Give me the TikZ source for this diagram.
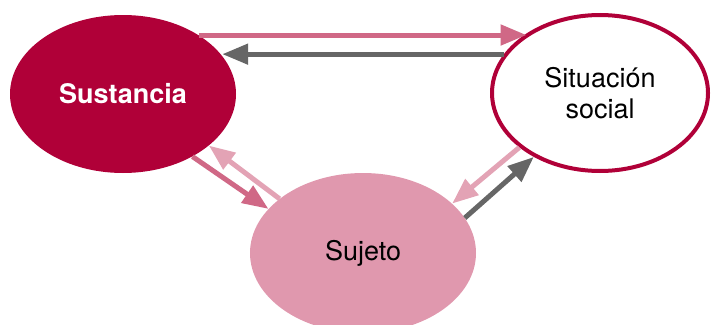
\documentclass[tikz,border=0pt]{standalone}
\usepackage{fontspec}
\setmainfont{TeX Gyre Heros}
\usetikzlibrary{arrows.meta,shapes.geometric}
\definecolor{crimson}{HTML}{B00038}
\definecolor{rosefill}{HTML}{E098AE}
\definecolor{rosearrow}{HTML}{D06886}
\definecolor{lightrose}{HTML}{E3A3B5}
\definecolor{greyarrow}{HTML}{666666}
\tikzset{
  bubble/.style={ellipse, inner sep=0pt, font=\fontsize{27}{31}\selectfont, align=center},
  conn/.style={line width=5pt, -{Triangle[length=26pt,width=20pt]}},
}
\begin{document}
\begin{tikzpicture}[x=1pt,y=-1pt]
\useasboundingbox (0,0) rectangle (711,324);
\clip (0,0) rectangle (711,324);
\node[bubble, fill=crimson, text=white, font=\fontsize{27}{31}\selectfont\bfseries,
      minimum width=226pt, minimum height=158pt] (sus) at (123,94) {Sustancia};
\node[bubble, draw=crimson, line width=4pt, fill=white,
      minimum width=216pt, minimum height=156pt] (sit) at (600,93) {Situación\\social};
\node[bubble, fill=rosefill, minimum width=226pt, minimum height=160pt] (suj) at (363,253) {Sujeto};
\draw[conn, rosearrow] (sus.38.6) -- (sus.38.6 -| sit.141.5);
\draw[conn, greyarrow] (sit.158.2) -- (sit.158.2 -| sus.21.7);
\draw[conn, rosearrow] (sus.-42) -- (suj.155.65);
\draw[conn, lightrose] (suj.147.44) -- (sus.-31.64);
\draw[conn, lightrose] (sit.-146.95) -- (suj.29.8);
\draw[conn, greyarrow] (suj.19.8) -- (sit.-136.3);
\end{tikzpicture}
\end{document}
